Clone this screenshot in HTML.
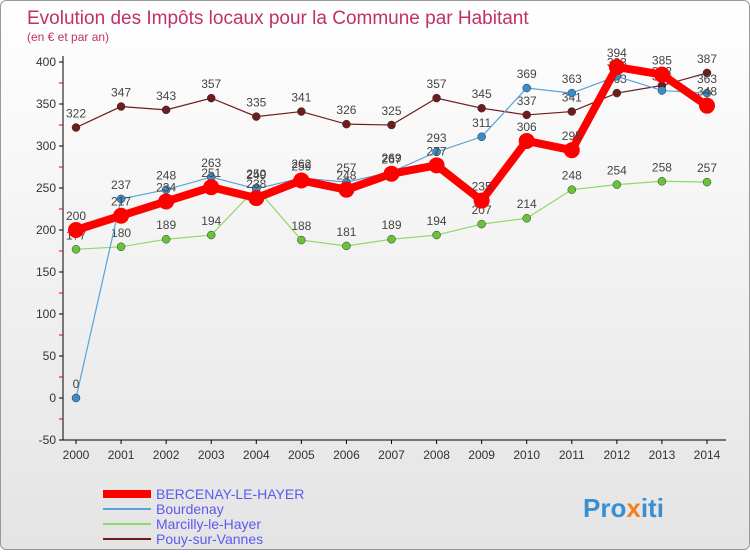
<!DOCTYPE html>
<html><head><meta charset="utf-8"><style>
body{margin:0;width:750px;height:550px;overflow:hidden;font-family:"Liberation Sans",sans-serif}
#wrap{position:absolute;left:0;top:0;width:748px;height:548px;border:1px solid #999;border-radius:6px;background:linear-gradient(#fff,#e4e4e4)}
</style></head><body>
<div id="wrap">
<svg id="c" width="750" height="550">
<text x="26" y="23" font-size="19" fill="#c0306a">Evolution des Impôts locaux pour la Commune par Habitant</text>
<text x="26" y="40" font-size="12" fill="#c0306a">(en € et par an)</text>
<g id="axes"></g><g id="series"></g><g id="legend"></g>
<text x="582" y="516" font-size="26" font-weight="bold" fill="#3a8fd0">Pro<tspan fill="#f08020">x</tspan>iti</text>
</svg></div>
<script>
const years=[2000,2001,2002,2003,2004,2005,2006,2007,2008,2009,2010,2011,2012,2013,2014];
const yTicks=[-50,0,50,100,150,200,250,300,350,400];
const bercenay=[200,217,234,251,238,259,248,267,277,235,306,295,394,385,348];
const bourdenay=[0,237,248,263,249,262,257,269,293,311,369,363,383,366,363];
const marcilly=[177,180,189,194,250,188,181,189,194,207,214,248,254,258,257];
const pouy=[322,347,343,357,335,341,326,325,357,345,337,341,363,372,387];
const NS="http://www.w3.org/2000/svg";
const X=i=>75+i*(706-75)/14;
const Y=v=>397-v*0.84;
function mk(p,t,a){const e=document.createElementNS(NS,t);for(const k in a)e.setAttribute(k,a[k]);p.appendChild(e);return e;}
const ax=document.getElementById('axes');
let l=mk(ax,'line',{x1:62,y1:55,x2:62,y2:Y(-50),stroke:'#000'});

l=mk(ax,'line',{x1:62,y1:Y(-50),x2:725,y2:Y(-50),stroke:'#000'});

yTicks.forEach((v,i)=>{
 mk(ax,'line',{x1:58,y1:Y(v),x2:62,y2:Y(v),stroke:'#000'});
 const t=mk(ax,'text',{x:55,y:Y(v)+4,'font-size':12,'text-anchor':'end',fill:'#333'});t.textContent=v;
 
 if(i<yTicks.length-1)mk(ax,'line',{x1:58,y1:Y(v+25),x2:62,y2:Y(v+25),stroke:'#e00'});
});
years.forEach((y,i)=>{
 mk(ax,'line',{x1:X(i),y1:Y(-50),x2:X(i),y2:Y(-50)+4,stroke:'#000'});
 const t=mk(ax,'text',{x:X(i),y:Y(-50)+19,'font-size':12,'text-anchor':'middle',fill:'#333'});t.textContent=y;
 
});
const S=[
 {n:'Pouy-sur-Vannes',d:pouy,c:'#6e1c1c',w:1.2,r:4,dot:'#6e1c1c'},
 {n:'Marcilly-le-Hayer',d:marcilly,c:'#8fd86a',w:1.2,r:4,dot:'#6ac23a'},
 {n:'Bourdenay',d:bourdenay,c:'#5ba3d8',w:1.2,r:4,dot:'#3a8cc8'},
 {n:'BERCENAY-LE-HAYER',d:bercenay,c:'#f00',w:8,r:8,dot:'#f00'}];
const sg=document.getElementById('series');
S.forEach(s=>{
 const g=mk(sg,'g',{});
 const p=mk(g,'polyline',{points:s.d.map((v,i)=>X(i)+','+Y(v)).join(' '),fill:'none',stroke:s.c,'stroke-width':s.w});
 
 s.d.forEach((v,i)=>{
  const c=mk(g,'circle',{cx:X(i),cy:Y(v),r:s.r,fill:s.dot,stroke:s.w>2?'none':'#333','stroke-width':0.5});
  
  const t=mk(g,'text',{x:X(i),y:Y(v)-10,'font-size':12,'text-anchor':'middle',fill:'#444'});t.textContent=v;
  
 });
});
const lg=document.getElementById('legend');
[S[3],S[2],S[1],S[0]].forEach((s,i)=>{
 const y=493+i*15;
 const e=mk(lg,'line',{x1:102,y1:y,x2:150,y2:y,stroke:s.c,'stroke-width':s.w>2?8:2});
 
 const t=mk(lg,'text',{x:155,y:y+5,'font-size':14,fill:'#5a5af0'});t.textContent=s.n;
 
});
</script></body></html>
